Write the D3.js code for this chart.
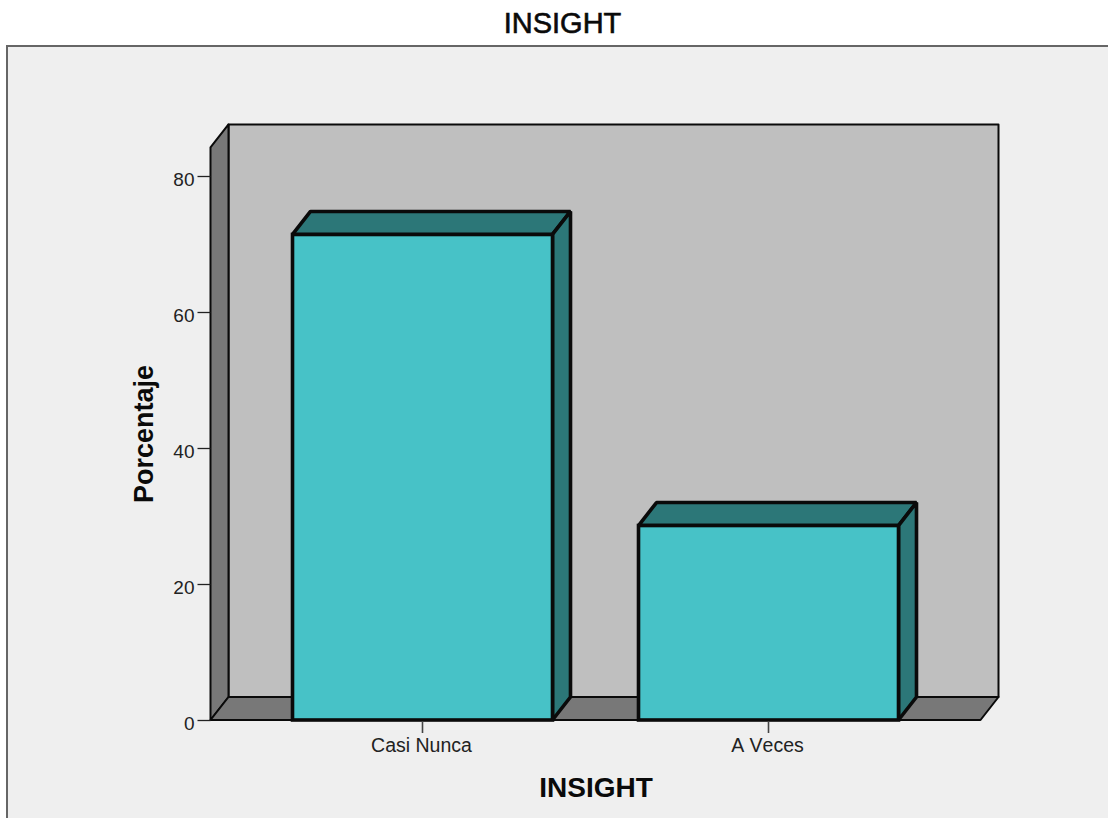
<!DOCTYPE html>
<html>
<head>
<meta charset="utf-8">
<script src="https://cdn.jsdelivr.net/npm/d3@7/dist/d3.min.js"></script>
<style>
html,body{margin:0;padding:0;background:#fff;overflow:hidden}
svg{display:block}
text{font-family:"Liberation Sans",Arial,sans-serif;fill:#0a0a0a}
</style>
</head>
<body>
<svg id="chart" width="1108" height="818"></svg>
<script>
// Percentages per response category
const categories = ["Casi Nunca", "A Veces"];
const percentages = [71.4, 28.6];
const yTicks = [0, 20, 40, 60, 80];
const chartTitle = "INSIGHT";
const xTitle = "INSIGHT";
const yTitle = "Porcentaje";

const svg = d3.select("#chart");

// Front plane of the plot and the oblique depth offset
const plotLeft = 210.5, plotRight = 980.5, plotBase = 720;
const depthX = 18, depthY = -23;

const y = d3.scaleLinear().domain([0, 80]).range([plotBase, 176]);
const wallTopValue = 84.2; // height of the front edge of the side wall
const x = d3.scaleBand().domain(categories).range([plotLeft, plotRight])
  .paddingInner(0.2486).paddingOuter(0.237);

const pts = a => a.map(p => p.join(",")).join(" ");
const ink = "#0a0a0a";

// Outer frame, running past the right and bottom edges of the page
svg.append("rect").attr("x", 7).attr("y", 46).attr("width", 1130).attr("height", 800)
  .attr("fill", "#efefef").attr("stroke", "#666").attr("stroke-width", 2);

svg.append("text").attr("x", 562.5).attr("y", 33).attr("text-anchor", "middle")
  .attr("font-size", 29).attr("stroke", "#0a0a0a").attr("stroke-width", 0.6).text(chartTitle);

// Back wall, side wall and floor
const wallTop = y(wallTopValue);
const g3d = svg.append("g").attr("stroke", ink).attr("stroke-linejoin", "round");
g3d.append("polygon").attr("stroke-width", 2).attr("fill", "#bfbfbf")
  .attr("points", pts([[plotLeft + depthX, wallTop + depthY], [plotRight + depthX, wallTop + depthY], [plotRight + depthX, plotBase + depthY], [plotLeft + depthX, plotBase + depthY]]));
g3d.append("polygon").attr("stroke-width", 2).attr("fill", "#787878")
  .attr("points", pts([[plotLeft, wallTop], [plotLeft + depthX, wallTop + depthY], [plotLeft + depthX, plotBase + depthY], [plotLeft, plotBase]]));
g3d.append("polygon").attr("stroke-width", 2).attr("fill", "#787878")
  .attr("points", pts([[plotLeft, plotBase], [plotLeft + depthX, plotBase + depthY], [plotRight + depthX, plotBase + depthY], [plotRight, plotBase]]));

// Bars: top and side faces first, then the front face
const bars = svg.append("g").selectAll("g")
  .data(categories.map((c, i) => ({ c, v: percentages[i] })))
  .join("g")
  .attr("stroke", ink).attr("stroke-width", 3.6).attr("stroke-linejoin", "bevel");
bars.append("polygon").attr("fill", "#2c7778").attr("points", d => {
  const x0 = x(d.c), x1 = x0 + x.bandwidth(), yt = y(d.v);
  return pts([[x0, yt], [x0 + depthX, yt + depthY], [x1 + depthX, yt + depthY], [x1, yt]]);
});
bars.append("polygon").attr("fill", "#2c7778").attr("points", d => {
  const x1 = x(d.c) + x.bandwidth(), yt = y(d.v);
  return pts([[x1, yt], [x1 + depthX, yt + depthY], [x1 + depthX, plotBase + depthY], [x1, plotBase]]);
});
bars.append("rect").attr("fill", "#47c2c7").attr("stroke-linejoin", "miter")
  .attr("x", d => x(d.c)).attr("y", d => y(d.v))
  .attr("width", x.bandwidth()).attr("height", d => plotBase - y(d.v));

// Axes
const tickFont = '"Liberation Sans",Arial,sans-serif';
const yAxis = svg.append("g").attr("transform", `translate(${plotLeft},0)`)
  .call(d3.axisLeft(y).tickValues(yTicks).tickSize(13).tickPadding(3));
yAxis.select(".domain").remove();
yAxis.selectAll("line").attr("stroke", "#222").attr("stroke-width", 1.3);
yAxis.selectAll("text").attr("font-size", 19).attr("dy", "0.52em")
  .style("font-family", tickFont).style("fill", "#222");

const xAxis = svg.append("g").attr("transform", `translate(0,${plotBase + 1})`)
  .call(d3.axisBottom(x).tickSize(12).tickPadding(5.5));
xAxis.select(".domain").remove();
xAxis.selectAll("line").attr("stroke", "#444").attr("stroke-width", 1.6);
xAxis.selectAll("text").attr("font-size", 19.5).attr("dx", -1)
  .style("font-family", tickFont).style("font-kerning", "none").style("fill", "#222");

svg.append("text").attr("x", 596).attr("y", 797).attr("text-anchor", "middle")
  .attr("font-size", 28).attr("font-weight", "bold").text(xTitle);
svg.append("text").attr("transform", "translate(153,434) rotate(-90)").attr("text-anchor", "middle")
  .attr("font-size", 27).attr("font-weight", "bold").text(yTitle);
</script>
</body>
</html>
